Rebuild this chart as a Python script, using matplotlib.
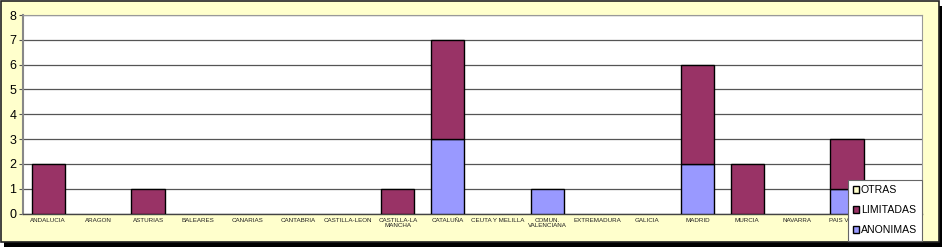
import matplotlib
matplotlib.use("Agg")
import matplotlib.pyplot as plt
from matplotlib.patches import Rectangle, Patch
import numpy as np

plt.rcParams['font.family'] = ['Liberation Sans', 'DejaVu Sans']

categories = ["ANDALUCIA", "ARAGON", "ASTURIAS", "BALEARES", "CANARIAS", "CANTABRIA",
              "CASTILLA-LEON", "CASTILLA-LA\nMANCHA", "CATALUÑA", "CEUTA Y MELILLA",
              "COMUN.\nVALENCIANA", "EXTREMADURA", "GALICIA", "MADRID", "MURCIA",
              "NAVARRA", "PAIS VASCO", "LA RIOJA"]
anonimas  = [0, 0, 0, 0, 0, 0, 0, 0, 3, 0, 1, 0, 0, 2, 0, 0, 1, 0]
limitadas = [2, 0, 1, 0, 0, 0, 0, 1, 4, 0, 0, 0, 0, 4, 2, 0, 2, 0]
otras     = [0] * 18
series_names = ["ANONIMAS", "LIMITADAS", "OTRAS"]
series_colors = ["#9999FF", "#993366", "#FFFFCC"]
yticks = [0, 1, 2, 3, 4, 5, 6, 7, 8]

W, H = 944, 247
fig = plt.figure(figsize=(W / 100, H / 100), dpi=100)
fig.patch.set_facecolor("white")

# shadow and frame
fig.patches.append(Rectangle((4 / W, 0), (W - 6) / W, (H - 6) / H, transform=fig.transFigure,
                             facecolor="black", edgecolor="none", zorder=-3))
fig.patches.append(Rectangle((1 / W, 5 / H), (W - 6) / W, (H - 6) / H, transform=fig.transFigure,
                             facecolor="#FFFFCC", edgecolor="#222222", linewidth=1.2, zorder=-2))

left, right, top, bottom = 23.3, 922, 15, 213.5
ax = fig.add_axes([left / W, 1 - bottom / H, (right - left) / W, (bottom - top) / H])
ax.set_zorder(1)
ax.set_facecolor("white")
x = np.arange(len(categories))
bw = 0.67
base = np.zeros(len(categories))
for vals, name, col in zip([anonimas, limitadas, otras], series_names, series_colors):
    bars = ax.bar(x, vals, bw, bottom=base, color=col, edgecolor="black", linewidth=1, zorder=3)
    for p, v in zip(bars.patches, vals):
        if v == 0:
            p.set_visible(False)
    base = base + np.array(vals)

ax.set_xlim(-0.5, len(categories) - 0.5)
ax.set_ylim(0, 8)
ax.set_yticks(yticks)
ax.set_yticklabels([str(v) for v in yticks], fontsize=9, color="black")
ax.yaxis.grid(True, color="#555555", linewidth=0.9, zorder=0)
ax.set_xticks(x)
ax.set_xticklabels(categories, fontsize=4.5, color="#222222", linespacing=1.1)
ax.tick_params(axis="x", length=0, pad=3)
ax.tick_params(axis="y", length=3, width=0.8, color="#555555", pad=2)
for s in ["top", "right"]:
    ax.spines[s].set_color("#999999")
    ax.spines[s].set_linewidth(0.8)
ax.spines["left"].set_color("#888888")
ax.spines["left"].set_linewidth(1.5)
ax.spines["bottom"].set_color("#444444")
ax.spines["bottom"].set_linewidth(1.0)

handles = [Patch(facecolor=c, edgecolor="black", linewidth=1, label=n)
           for n, c in zip(series_names, series_colors)]
leg = fig.legend(handles[::-1], series_names[::-1], loc="upper left",
                 bbox_to_anchor=(848 / W, 1 - 180 / H), fontsize=7.6, frameon=True,
                 fancybox=False, framealpha=1, handlelength=0.55, handleheight=0.55,
                 handletextpad=0.15, labelspacing=0.95, borderpad=0.5, borderaxespad=0)
leg.get_frame().set_edgecolor("#666666")
leg.get_frame().set_linewidth(0.8)
leg.set_zorder(10)

fig.savefig("out.png", dpi=100, facecolor=fig.get_facecolor())
